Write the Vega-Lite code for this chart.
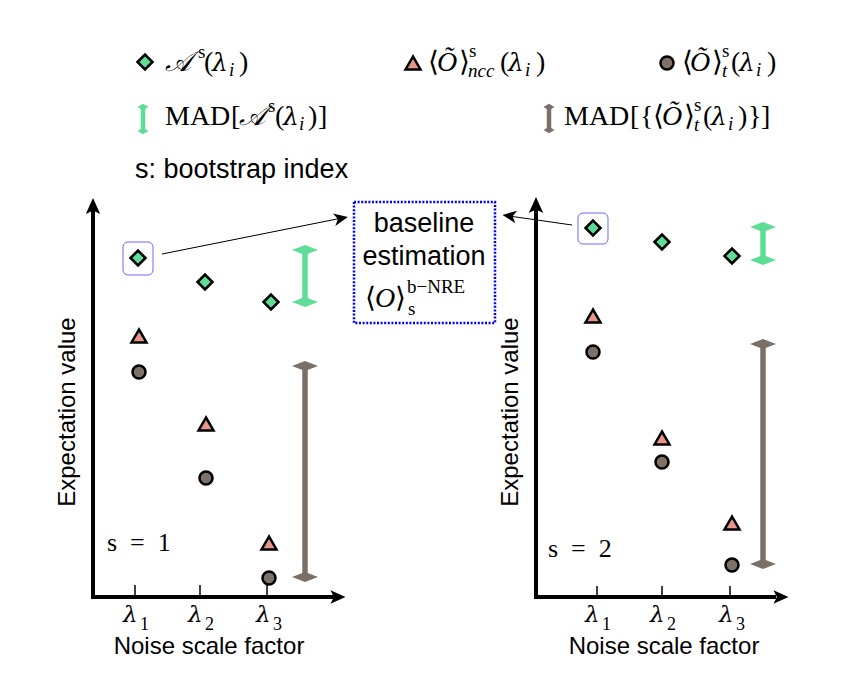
{
  "$schema": "https://vega.github.io/schema/vega-lite/v6.json",
  "width": 866,
  "height": 694,
  "autosize": {"type": "fit", "contains": "padding"},
  "padding": 0,
  "background": "white",
  "config": {"view": {"stroke": null}},
  "datasets": {
    "axes": [
      {"x": 93, "y": 599, "x2": 93, "y2": 207},
      {"x": 91, "y": 597, "x2": 334, "y2": 597},
      {"x": 536, "y": 599, "x2": 536, "y2": 207},
      {"x": 534, "y": 597, "x2": 776, "y2": 597}
    ],
    "axisUp": [{"x": 93, "y": 206}, {"x": 536, "y": 205}],
    "axisRight": [{"x": 338, "y": 597}, {"x": 781, "y": 597}],
    "ticks": [
      {"x": 135, "y": 585, "y2": 597}, {"x": 200, "y": 585, "y2": 597}, {"x": 267, "y": 585, "y2": 597},
      {"x": 597, "y": 586, "y2": 597}, {"x": 662, "y": 586, "y2": 597}, {"x": 730, "y": 586, "y2": 597}
    ],
    "tickLam": [
      {"x": 123, "y": 622, "t": "λ"}, {"x": 188, "y": 622, "t": "λ"}, {"x": 256, "y": 622, "t": "λ"},
      {"x": 585, "y": 622, "t": "λ"}, {"x": 650, "y": 622, "t": "λ"}, {"x": 719, "y": 622, "t": "λ"}
    ],
    "tickSub": [
      {"x": 140, "y": 630, "t": "1"}, {"x": 205, "y": 630, "t": "2"}, {"x": 273, "y": 630, "t": "3"},
      {"x": 602, "y": 630, "t": "1"}, {"x": 667, "y": 630, "t": "2"}, {"x": 736, "y": 630, "t": "3"}
    ],
    "pts": [
      {"s": "A", "x": 145, "y": 62}, {"s": "ncc", "x": 413, "y": 63}, {"s": "t", "x": 667, "y": 63},
      {"s": "A", "x": 138, "y": 258}, {"s": "A", "x": 205, "y": 282}, {"s": "A", "x": 271, "y": 302},
      {"s": "ncc", "x": 139, "y": 336}, {"s": "ncc", "x": 206, "y": 424}, {"s": "ncc", "x": 269, "y": 543},
      {"s": "t", "x": 139, "y": 372}, {"s": "t", "x": 206, "y": 478}, {"s": "t", "x": 269, "y": 578},
      {"s": "A", "x": 593, "y": 228}, {"s": "A", "x": 662, "y": 242}, {"s": "A", "x": 732, "y": 256},
      {"s": "ncc", "x": 593, "y": 316}, {"s": "ncc", "x": 662, "y": 438}, {"s": "ncc", "x": 732, "y": 523},
      {"s": "t", "x": 593, "y": 352}, {"s": "t", "x": 662, "y": 462}, {"s": "t", "x": 732, "y": 565}
    ],
    "madBars": [
      {"s": "A", "kind": "panel", "x": 305, "y": 250, "y2": 302},
      {"s": "A", "kind": "panel", "x": 763, "y": 227, "y2": 260},
      {"s": "t", "kind": "panel", "x": 305, "y": 366, "y2": 577},
      {"s": "t", "kind": "panel", "x": 763, "y": 344, "y2": 564},
      {"s": "A", "kind": "legend", "x": 143, "y": 108, "y2": 130},
      {"s": "t", "kind": "legend", "x": 549, "y": 108, "y2": 129}
    ],
    "madHeads": [
      {"s": "A", "kind": "panel", "x": 305, "y": 250}, {"s": "A", "kind": "panel", "x": 305, "y": 302},
      {"s": "A", "kind": "panel", "x": 763, "y": 227}, {"s": "A", "kind": "panel", "x": 763, "y": 260},
      {"s": "t", "kind": "panel", "x": 305, "y": 366}, {"s": "t", "kind": "panel", "x": 305, "y": 577},
      {"s": "t", "kind": "panel", "x": 763, "y": 344}, {"s": "t", "kind": "panel", "x": 763, "y": 564},
      {"s": "A", "kind": "legend", "x": 143, "y": 107}, {"s": "A", "kind": "legend", "x": 143, "y": 131},
      {"s": "t", "kind": "legend", "x": 549, "y": 107}, {"s": "t", "kind": "legend", "x": 549, "y": 130}
    ],
    "hiBoxes": [
      {"x": 123, "x2": 153, "y": 242, "y2": 275},
      {"x": 578, "x2": 608, "y": 213, "y2": 244}
    ],
    "dotBox": [{"x": 354, "x2": 495, "y": 202, "y2": 323}],
    "links": [
      {"x": 162, "y": 254, "x2": 342, "y2": 218},
      {"x": 572, "y": 225, "x2": 509, "y2": 216}
    ],
    "linkHeadL": [{"x": 341, "y": 218.4}],
    "linkHeadR": [{"x": 509.4, "y": 215.9}],
    "serifUp": [
      {"x": 204, "y": 71, "t": "("}, {"x": 239, "y": 71, "t": ")"},
      {"x": 428, "y": 71, "t": "⟨"}, {"x": 459, "y": 71, "t": "⟩"}, {"x": 500, "y": 71, "t": "("}, {"x": 536, "y": 71, "t": ")"},
      {"x": 682, "y": 71, "t": "⟨"}, {"x": 712, "y": 71, "t": "⟩"}, {"x": 731, "y": 71, "t": "("}, {"x": 767, "y": 71, "t": ")"},
      {"x": 165, "y": 125, "t": "MAD"}, {"x": 231, "y": 125, "t": "["}, {"x": 275, "y": 125, "t": "("}, {"x": 308, "y": 125, "t": ")"}, {"x": 318, "y": 125, "t": "]"},
      {"x": 564, "y": 125, "t": "MAD"}, {"x": 630, "y": 125, "t": "["}, {"x": 640, "y": 125, "t": "{"}, {"x": 653, "y": 125, "t": "⟨"}, {"x": 684, "y": 125, "t": "⟩"},
      {"x": 703, "y": 125, "t": "("}, {"x": 738, "y": 125, "t": ")"}, {"x": 748, "y": 125, "t": "}"}, {"x": 761, "y": 125, "t": "]"},
      {"x": 365, "y": 307, "t": "⟨"}, {"x": 395, "y": 307, "t": "⟩"}
    ],
    "eqText": [
      {"x": 107, "y": 551, "t": "s\u2002=\u20021"}, {"x": 548, "y": 557, "t": "s\u2002=\u20022"}
    ],
    "serifIt": [
      {"x": 165, "y": 71, "t": "𝒜"},
      {"x": 437, "y": 71, "t": "Õ"},
      {"x": 690, "y": 71, "t": "Õ"},
      {"x": 239, "y": 125, "t": "𝒜"},
      {"x": 662, "y": 125, "t": "Õ"},
      {"x": 375, "y": 307, "t": "O"}
    ],
    "lamIt": [
      {"x": 212, "y": 71, "t": "λ"}, {"x": 508, "y": 71, "t": "λ"}, {"x": 739, "y": 71, "t": "λ"},
      {"x": 283, "y": 125, "t": "λ"}, {"x": 711, "y": 125, "t": "λ"}
    ],
    "supUp": [
      {"x": 198, "y": 58, "t": "s"}, {"x": 469, "y": 57, "t": "s"}, {"x": 722, "y": 57, "t": "s"},
      {"x": 268, "y": 112, "t": "s"}, {"x": 694, "y": 111, "t": "s"},
      {"x": 407, "y": 293, "t": "b−NRE"}
    ],
    "subIt": [
      {"x": 229, "y": 76, "t": "i"}, {"x": 468, "y": 77, "t": "ncc"}, {"x": 525, "y": 76, "t": "i"},
      {"x": 722, "y": 77, "t": "t"}, {"x": 756, "y": 76, "t": "i"},
      {"x": 299, "y": 130, "t": "i"}, {"x": 694, "y": 131, "t": "t"}, {"x": 728, "y": 130, "t": "i"}
    ],
    "subUp": [{"x": 408, "y": 315, "t": "s"}],
    "sansLegend": [{"x": 135, "y": 178, "t": "s: bootstrap index"}],
    "sansBox": [{"x": 424, "y": 232, "t": "baseline"}, {"x": 424, "y": 265, "t": "estimation"}],
    "xTitles": [{"x": 209, "y": 654, "t": "Noise scale factor"}, {"x": 664, "y": 654, "t": "Noise scale factor"}],
    "yTitles": [{"x": 68, "y": 412, "t": "Expectation value"}, {"x": 511, "y": 412, "t": "Expectation value"}]
  },
  "encoding": {
    "x": {"field": "x", "type": "quantitative", "scale": {"domain": [0, 866], "nice": false, "zero": false}, "axis": null},
    "y": {"field": "y", "type": "quantitative", "scale": {"domain": [0, 694], "nice": false, "zero": false, "reverse": true}, "axis": null}
  },
  "layer": [
    {"data": {"name": "dotBox"}, "mark": {"type": "rect", "filled": false, "stroke": "#0000ff", "strokeWidth": 2.5, "strokeDash": [2, 1.6]},
     "encoding": {"x2": {"field": "x2"}, "y2": {"field": "y2"}}},
    {"data": {"name": "hiBoxes"}, "mark": {"type": "rect", "filled": false, "stroke": "#6a6aff", "strokeWidth": 1, "cornerRadius": 5},
     "encoding": {"x2": {"field": "x2"}, "y2": {"field": "y2"}}},
    {"data": {"name": "axes"}, "mark": {"type": "rule", "color": "black", "strokeWidth": 4},
     "encoding": {"x2": {"field": "x2"}, "y2": {"field": "y2"}}},
    {"data": {"name": "axisUp"}, "mark": {"type": "point", "filled": true, "color": "black", "opacity": 1, "shape": "M0,-1L0.9,1L0,0.55L-0.9,1Z", "size": 256}, "encoding": {}},
    {"data": {"name": "axisRight"}, "mark": {"type": "point", "filled": true, "color": "black", "opacity": 1, "shape": "M0,-1L0.9,1L0,0.55L-0.9,1Z", "size": 225, "angle": 90}, "encoding": {}},
    {"data": {"name": "ticks"}, "mark": {"type": "rule", "color": "black", "strokeWidth": 1.5},
     "encoding": {"y2": {"field": "y2"}}},
    {"data": {"name": "links"}, "mark": {"type": "rule", "color": "black", "strokeWidth": 1},
     "encoding": {"x2": {"field": "x2"}, "y2": {"field": "y2"}}},
    {"data": {"name": "linkHeadL"}, "mark": {"type": "point", "filled": true, "color": "black", "opacity": 1, "shape": "M0,-1L0.9,1L0,0.45L-0.9,1Z", "size": 196, "angle": 78.8}, "encoding": {}},
    {"data": {"name": "linkHeadR"}, "mark": {"type": "point", "filled": true, "color": "black", "opacity": 1, "shape": "M0,-1L0.9,1L0,0.45L-0.9,1Z", "size": 196, "angle": 278.2}, "encoding": {}},
    {"data": {"name": "madBars"}, "transform": [{"filter": "datum.kind == 'panel'"}], "mark": {"type": "rule", "strokeWidth": 5.5},
     "encoding": {"y2": {"field": "y2"}, "color": {"field": "s", "type": "nominal", "scale": {"domain": ["A", "ncc", "t"], "range": ["#5fdc96", "#e8958a", "#7b7067"]}, "legend": null}}},
    {"data": {"name": "madBars"}, "transform": [{"filter": "datum.kind == 'legend'"}], "mark": {"type": "rule", "strokeWidth": 4.5},
     "encoding": {"y2": {"field": "y2"}, "color": {"field": "s", "type": "nominal", "scale": {"domain": ["A", "ncc", "t"], "range": ["#5fdc96", "#e8958a", "#7b7067"]}, "legend": null}}},
    {"data": {"name": "madHeads"}, "transform": [{"filter": "datum.kind == 'panel'"}], "mark": {"type": "point", "filled": true, "opacity": 1, "shape": "M0,-0.38L1,0L0,0.38L-1,0Z", "size": 676},
     "encoding": {"color": {"field": "s", "type": "nominal", "scale": {"domain": ["A", "ncc", "t"], "range": ["#5fdc96", "#e8958a", "#7b7067"]}, "legend": null}}},
    {"data": {"name": "madHeads"}, "transform": [{"filter": "datum.kind == 'legend'"}], "mark": {"type": "point", "filled": true, "opacity": 1, "shape": "M0,-0.6L1,0L0,0.6L-1,0Z", "size": 121},
     "encoding": {"color": {"field": "s", "type": "nominal", "scale": {"domain": ["A", "ncc", "t"], "range": ["#5fdc96", "#e8958a", "#7b7067"]}, "legend": null}}},
    {"data": {"name": "pts"}, "transform": [{"filter": "datum.s == 'A'"}], "mark": {"type": "point", "shape": "diamond", "filled": true, "fill": "#5fdc96", "stroke": "black", "strokeWidth": 2.5, "opacity": 1, "size": 225}, "encoding": {}},
    {"data": {"name": "pts"}, "transform": [{"filter": "datum.s == 'ncc'"}], "mark": {"type": "point", "shape": "triangle-up", "filled": true, "fill": "#e8958a", "stroke": "black", "strokeWidth": 2.5, "opacity": 1, "size": 225}, "encoding": {}},
    {"data": {"name": "pts"}, "transform": [{"filter": "datum.s == 't'"}], "mark": {"type": "point", "shape": "circle", "filled": true, "fill": "#7d7168", "stroke": "black", "strokeWidth": 2.5, "opacity": 1, "size": 170}, "encoding": {}},
    {"data": {"name": "serifUp"}, "mark": {"type": "text", "font": "Liberation Serif", "fontSize": 28, "align": "left", "baseline": "alphabetic", "color": "black"},
     "encoding": {"text": {"field": "t"}}},
    {"data": {"name": "eqText"}, "mark": {"type": "text", "font": "Liberation Serif", "fontSize": 26, "align": "left", "baseline": "alphabetic", "color": "black"},
     "encoding": {"text": {"field": "t"}}},
    {"data": {"name": "serifIt"}, "mark": {"type": "text", "font": "Liberation Serif", "fontStyle": "italic", "fontSize": 28, "align": "left", "baseline": "alphabetic", "color": "black"},
     "encoding": {"text": {"field": "t"}}},
    {"data": {"name": "lamIt"}, "mark": {"type": "text", "font": "DejaVu Serif", "fontStyle": "italic", "fontSize": 25, "align": "left", "baseline": "alphabetic", "color": "black"},
     "encoding": {"text": {"field": "t"}}},
    {"data": {"name": "supUp"}, "mark": {"type": "text", "font": "Liberation Serif", "fontSize": 19, "align": "left", "baseline": "alphabetic", "color": "black"},
     "encoding": {"text": {"field": "t"}}},
    {"data": {"name": "subIt"}, "mark": {"type": "text", "font": "Liberation Serif", "fontStyle": "italic", "fontSize": 19, "align": "left", "baseline": "alphabetic", "color": "black"},
     "encoding": {"text": {"field": "t"}}},
    {"data": {"name": "subUp"}, "mark": {"type": "text", "font": "Liberation Serif", "fontSize": 19, "align": "left", "baseline": "alphabetic", "color": "black"},
     "encoding": {"text": {"field": "t"}}},
    {"data": {"name": "tickLam"}, "mark": {"type": "text", "font": "DejaVu Serif", "fontStyle": "italic", "fontSize": 23, "align": "left", "baseline": "alphabetic", "color": "black"},
     "encoding": {"text": {"field": "t"}}},
    {"data": {"name": "tickSub"}, "mark": {"type": "text", "font": "Liberation Serif", "fontSize": 18, "align": "left", "baseline": "alphabetic", "color": "black"},
     "encoding": {"text": {"field": "t"}}},
    {"data": {"name": "sansLegend"}, "mark": {"type": "text", "font": "Liberation Sans", "fontSize": 27, "align": "left", "baseline": "alphabetic", "color": "black"},
     "encoding": {"text": {"field": "t"}}},
    {"data": {"name": "sansBox"}, "mark": {"type": "text", "font": "Liberation Sans", "fontSize": 27, "align": "center", "baseline": "alphabetic", "color": "black"},
     "encoding": {"text": {"field": "t"}}},
    {"data": {"name": "xTitles"}, "mark": {"type": "text", "font": "Liberation Sans", "fontSize": 24, "align": "center", "baseline": "alphabetic", "color": "black"},
     "encoding": {"text": {"field": "t"}}},
    {"data": {"name": "yTitles"}, "mark": {"type": "text", "font": "Liberation Sans", "fontSize": 24, "align": "center", "baseline": "middle", "angle": 270, "color": "black"},
     "encoding": {"text": {"field": "t"}}}
  ]
}
